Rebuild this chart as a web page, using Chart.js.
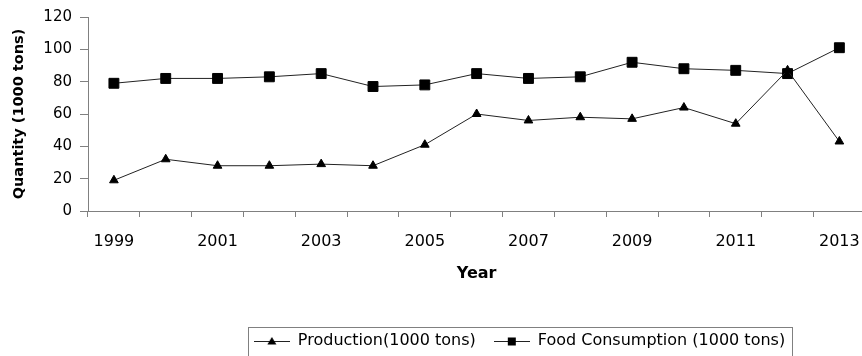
<!DOCTYPE html>
<html>
<head>
<meta charset="utf-8">
<script src="https://cdn.jsdelivr.net/npm/chart.js@4.4.1/dist/chart.umd.min.js"></script>
<style>
  html, body { margin: 0; padding: 0; background: #fff; overflow: hidden; }
  #wrap { position: relative; width: 875px; height: 359px; }
</style>
</head>
<body>
<div id="wrap"><canvas id="chart"></canvas></div>
<script>
// Years on the category axis
const years = ['1999', '2000', '2001', '2002', '2003', '2004', '2005', '2006',
               '2007', '2008', '2009', '2010', '2011', '2012', '2013'];
// Quantities in 1000 tons
const production      = [19, 32, 28, 28, 29, 28, 41, 60, 56, 58, 57, 64, 54, 87, 43];
const foodConsumption = [79, 82, 82, 83, 85, 77, 78, 85, 82, 83, 92, 88, 87, 85, 101];
// Value axis ticks
const yMin = 0, yMax = 120, yStep = 20;

const FONT = 'DejaVu Sans';
const AXIS_GREY = '#808080';
const SWATCH_W = 36;

// Small "line + marker" swatch used as the legend symbol
function legendSwatch(kind) {
  const cv = document.createElement('canvas');
  cv.width = SWATCH_W; cv.height = 14;
  const g = cv.getContext('2d');
  const c = SWATCH_W / 2;
  g.strokeStyle = '#222';
  g.lineWidth = 1;
  g.beginPath(); g.moveTo(0, 7.5); g.lineTo(SWATCH_W, 7.5); g.stroke();
  g.fillStyle = '#000';
  if (kind === 'triangle') {
    g.beginPath(); g.moveTo(c, 3); g.lineTo(c + 4.5, 10.5); g.lineTo(c - 4.5, 10.5); g.closePath(); g.fill();
  } else {
    g.fillRect(c - 4, 3.5, 8, 8);
  }
  return cv;
}

// Moves the legend row to its place and draws a frame around it
const legendFrame = {
  id: 'legendFrame',
  afterLayout(chart) {
    const lg = chart.legend;
    const dx = 519.5 - (lg.left + lg.right) / 2;
    lg.left += dx;
    lg.right += dx;
  },
  afterDraw(chart) {
    const lg = chart.legend;
    const pad = lg.options.labels.padding;
    const lw = lg.lineWidths[0];
    const x0 = (lg.left + pad + lg.right - lw) / 2;
    const x1 = x0 + lw - pad;
    const ctx = chart.ctx;
    ctx.save();
    ctx.strokeStyle = AXIS_GREY;
    ctx.lineWidth = 1;
    ctx.strokeRect(Math.round(x0 - 6) + 0.5, Math.round(lg.top + 12) + 0.5, Math.round(x1 - x0 + 13), 60);
    ctx.restore();
  }
};

const swatches = [legendSwatch('triangle'), legendSwatch('rect')];

new Chart(document.getElementById('chart'), {
  type: 'line',
  data: {
    labels: years,
    datasets: [
      {
        label: 'Production(1000 tons)',
        data: production,
        borderColor: '#222',
        borderWidth: 1,
        pointStyle: 'triangle',
        pointRadius: 5,
        pointBorderWidth: 1,
        pointBackgroundColor: '#000',
        pointBorderColor: '#000',
        tension: 0,
        fill: false
      },
      {
        label: 'Food Consumption (1000 tons)',
        data: foodConsumption,
        borderColor: '#222',
        borderWidth: 1,
        pointStyle: 'rect',
        pointRadius: 7,
        pointBorderWidth: 1,
        pointBackgroundColor: '#000',
        pointBorderColor: '#000',
        tension: 0,
        fill: false
      }
    ]
  },
  options: {
    responsive: true,
    maintainAspectRatio: false,
    animation: false,
    devicePixelRatio: 1,
    layout: { padding: { top: 17, right: 3, bottom: 0, left: 0 } },
    plugins: {
      tooltip: { enabled: false },
      legend: {
        position: 'bottom',
        labels: {
          usePointStyle: true,
          pointStyleWidth: SWATCH_W,
          padding: 18,
          color: '#000',
          font: { family: FONT, size: 16 },
          generateLabels(chart) {
            const items = Chart.defaults.plugins.legend.labels.generateLabels(chart);
            items.forEach((it, i) => { it.pointStyle = swatches[i]; it.lineWidth = 0; });
            return items;
          }
        }
      }
    },
    scales: {
      x: {
        type: 'category',
        offset: true,
        grid: { display: true, drawOnChartArea: false, drawTicks: true, tickLength: 6, color: AXIS_GREY, offset: true },
        border: { display: true, color: AXIS_GREY, width: 1 },
        ticks: {
          autoSkip: false, maxRotation: 0, minRotation: 0, padding: 15,
          color: '#000', font: { family: FONT, size: 16 },
          callback(v, i) { return i % 2 === 0 ? this.getLabelForValue(v) : ''; }
        },
        title: {
          display: true, text: 'Year', color: '#000',
          font: { family: FONT, size: 16, weight: 'bold' },
          padding: { top: 8, bottom: 32 }
        },
        afterFit(s) { s.height = 104; }
      },
      y: {
        min: yMin, max: yMax,
        grid: { display: true, drawOnChartArea: false, drawTicks: true, tickLength: 8, color: AXIS_GREY },
        border: { display: true, color: AXIS_GREY, width: 1 },
        ticks: { stepSize: yStep, padding: 8, color: '#000', font: { family: FONT, size: 15 } },
        title: {
          display: true, text: 'Quantity (1000 tons)', color: '#000',
          font: { family: FONT, size: 14.5, weight: 'bold' },
          padding: { top: 11, bottom: 0 }
        },
        afterFit(s) { s.width = 88; }
      }
    }
  },
  plugins: [legendFrame]
});
</script>
</body>
</html>
